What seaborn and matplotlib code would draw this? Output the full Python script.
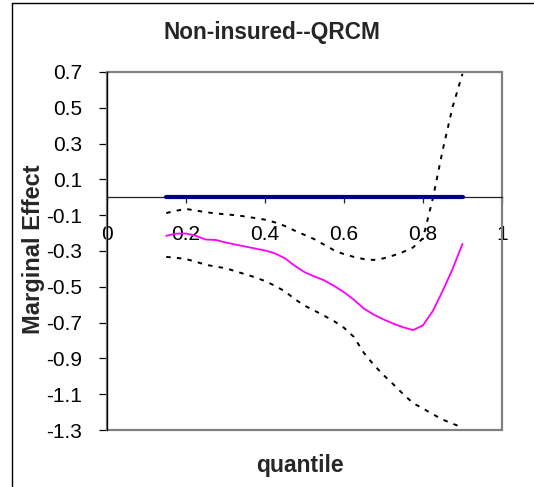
import matplotlib
matplotlib.use("Agg")
import matplotlib.pyplot as plt
from matplotlib.patches import Rectangle
from matplotlib.lines import Line2D
import seaborn as sns
import pandas as pd

# Quantile grid and estimated marginal effects (non-insured, QRCM)
quantiles = [0.150, 0.175, 0.200, 0.225, 0.250, 0.275, 0.300, 0.325, 0.350, 0.375,
             0.400, 0.425, 0.450, 0.475, 0.500, 0.525, 0.550, 0.575, 0.600, 0.625,
             0.650, 0.675, 0.700, 0.725, 0.750, 0.775, 0.800, 0.825, 0.850, 0.875,
             0.900]
effect = [-0.215, -0.203, -0.202, -0.215, -0.236, -0.238, -0.252, -0.264, -0.275, -0.286,
          -0.297, -0.313, -0.340, -0.382, -0.418, -0.442, -0.464, -0.495, -0.530, -0.572,
          -0.621, -0.655, -0.682, -0.706, -0.726, -0.742, -0.715, -0.635, -0.522, -0.400,
          -0.260]
upper_ci = [-0.088, -0.075, -0.065, -0.074, -0.083, -0.090, -0.095, -0.100, -0.107, -0.116,
            -0.125, -0.140, -0.160, -0.186, -0.210, -0.234, -0.265, -0.296, -0.318, -0.333,
            -0.345, -0.350, -0.341, -0.325, -0.305, -0.280, -0.229, -0.005, 0.265, 0.505,
            0.690]
lower_ci = [-0.333, -0.338, -0.345, -0.360, -0.377, -0.387, -0.396, -0.413, -0.430, -0.447,
            -0.468, -0.494, -0.525, -0.568, -0.605, -0.633, -0.662, -0.692, -0.729, -0.780,
            -0.868, -0.935, -0.993, -1.045, -1.100, -1.150, -1.180, -1.212, -1.242, -1.265,
            -1.286]
zero_line = [0.0] * len(quantiles)

x_ticks = [0, 0.2, 0.4, 0.6, 0.8, 1]
x_tick_labels = ["0", "0.2", "0.4", "0.6", "0.8", "1"]
y_ticks = [0.7, 0.5, 0.3, 0.1, -0.1, -0.3, -0.5, -0.7, -0.9, -1.1, -1.3]
y_tick_labels = ["0.7", "0.5", "0.3", "0.1", "-0.1", "-0.3", "-0.5", "-0.7", "-0.9", "-1.1", "-1.3"]

df = pd.DataFrame({"quantile": quantiles, "effect": effect, "upper": upper_ci,
                   "lower": lower_ci, "zero": zero_line})

sns.set_style("white")
plt.rcParams["font.family"] = ["Liberation Sans", "DejaVu Sans"]
plt.rcParams["axes.unicode_minus"] = False

fig = plt.figure(figsize=(5.34, 4.87), dpi=100)
ax = fig.add_axes([107 / 534, 1 - 430 / 487, 395 / 534, 358 / 487])

sns.lineplot(data=df, x="quantile", y="zero", ax=ax, color="#000080", lw=3.0,
             solid_capstyle="round", sort=False, zorder=4)
sns.lineplot(data=df, x="quantile", y="upper", ax=ax, color="black", lw=1.4,
             sort=False, zorder=3)
sns.lineplot(data=df, x="quantile", y="lower", ax=ax, color="black", lw=1.4,
             sort=False, zorder=3)
sns.lineplot(data=df, x="quantile", y="effect", ax=ax, color="#FF00FF", lw=1.3,
             sort=False, zorder=3)
for ln in ax.lines[1:3]:
    ln.set_linestyle((0, (2.3, 3.2)))

ax.set_xlim(0, 1)
ax.set_ylim(-1.3, 0.7)

# plot-area frame
ax.add_patch(Rectangle((0, 0), 1, 1, transform=ax.transAxes, fill=False,
                       edgecolor="#808080", lw=1.6, clip_on=False, zorder=1))
for side in ("top", "right"):
    ax.spines[side].set_visible(False)
ax.spines["left"].set_color("black")
ax.spines["left"].set_linewidth(0.9)
ax.spines["left"].set_zorder(5)
ax.spines["bottom"].set_position(("data", 0))
ax.spines["bottom"].set_color("#202020")
ax.spines["bottom"].set_linewidth(0.9)

ax.set_xticks(x_ticks)
ax.set_xticklabels(x_tick_labels)
ax.set_yticks(y_ticks)
ax.set_yticklabels(y_tick_labels)
ax.tick_params(axis="x", direction="out", length=4, width=0.9, color="#202020",
               pad=16, labelsize=15, labelcolor="black")
ax.tick_params(axis="y", direction="out", length=6, width=0.9, color="black",
               pad=12, labelsize=15, labelcolor="black")
ax.tick_params(left=True, bottom=True)

ax.set_xlabel("")
ax.set_ylabel("Marginal Effect", fontsize=17, fontweight="bold")
ax.yaxis.set_label_coords(-0.158, 0.505)

fig.text(271.5 / 534, 1 - 39 / 487, "Non-insured--QRCM", ha="center", va="baseline",
         fontsize=16.3, fontweight="bold")
fig.text(300 / 534, 1 - 472 / 487, "quantile", ha="center", va="baseline",
         fontsize=16.5, fontweight="bold")

# outer chart border
fig.add_artist(Line2D([12 / 534, 12 / 534], [0, 1 - 2.5 / 487], color="black", lw=1.0))
fig.add_artist(Line2D([12 / 534, 1], [1 - 2.5 / 487, 1 - 2.5 / 487], color="black", lw=1.0))

fig.savefig("out.png", dpi=100)
